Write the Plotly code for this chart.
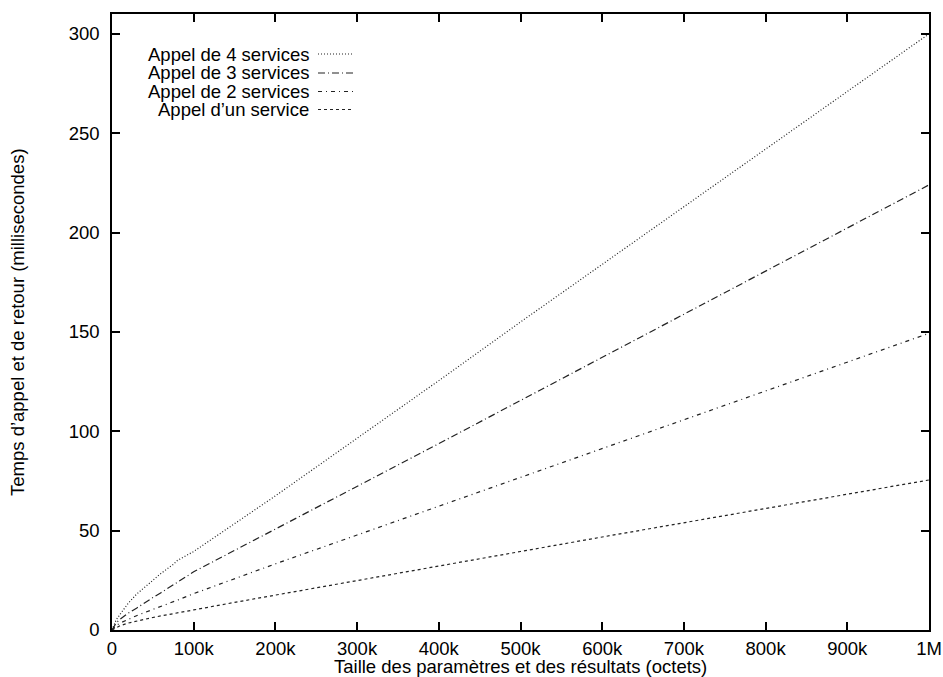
import plotly.graph_objects as go

# Data (x in bytes, y in milliseconds)
sizes = [0, 5e3, 10e3, 20e3, 30e3, 40e3, 50e3, 60e3, 75e3, 80e3, 100e3, 150e3, 200e3,
         300e3, 400e3, 500e3, 600e3, 700e3, 800e3, 900e3, 1e6]
svc4 = [0, 5, 8, 13.5, 18, 21.5, 25, 28.5, 33, 35, 39.5, 53.5, 67.5,
        96.5, 125.5, 155, 184, 213, 242, 271, 300]
svc3 = [0, 3.5, 5.5, 8.5, 11, 13.8, 16.3, 18.8, 22.5, 24, 29.3, 40, 50.6,
        72.2, 93.8, 115.5, 137.2, 159, 180.8, 202.5, 224]
svc2 = [0, 2.2, 3.5, 5.5, 7.2, 8.8, 10.3, 11.7, 14.2, 15, 18.3, 26, 33.3,
        47.8, 62.3, 76.8, 91.3, 105.8, 120.3, 134.8, 149.3]
svc1 = [0, 1.3, 2.2, 3.5, 4.5, 5.4, 6.3, 7.1, 8.3, 8.7, 10.1, 13.9, 17.6,
        25, 32.3, 39.5, 46.8, 54, 61, 68.3, 75.5]

series_names = ["Appel de 4 services", "Appel de 3 services", "Appel de 2 services", "Appel d\u2019un service"]
series_vals = [svc4, svc3, svc2, svc1]
dashes = ["1px,2px", "7px,3px,1px,3px", "4px,4px,1px,4px", "3px,3px"]

x_tickvals = [0, 1e5, 2e5, 3e5, 4e5, 5e5, 6e5, 7e5, 8e5, 9e5, 1e6]
x_ticktext = ["0", "100k", "200k", "300k", "400k", "500k", "600k", "700k", "800k", "900k", "1M"]
y_tickvals = [0, 50, 100, 150, 200, 250, 300]

FONT = "Liberation Sans, Arial, Helvetica, sans-serif"
FS = 18.5
LINE = "#222222"

fig = go.Figure()
for name, vals, d in zip(series_names, series_vals, dashes):
    fig.add_trace(go.Scatter(x=sizes, y=vals, mode="lines", name=name,
                             line=dict(color=LINE, width=1.2, dash=d),
                             showlegend=False))

W, H = 943, 677
L, R, T, B = 112, 14, 14, 47
pw, ph = W - L - R, H - T - B

def px_x(p):
    return (p - L) / pw

def px_y(p):
    return (H - B - p) / ph

annotations = []
shapes = []
legend_rows = [54, 73, 91.5, 109.5]
for name, d, yy in zip(series_names, dashes, legend_rows):
    annotations.append(dict(xref="paper", yref="paper", x=px_x(311), y=px_y(yy),
                            text=name, showarrow=False, xanchor="right", yanchor="middle",
                            font=dict(family=FONT, size=FS, color="black")))
    shapes.append(dict(type="line", xref="paper", yref="paper",
                       x0=px_x(318), x1=px_x(354), y0=px_y(yy), y1=px_y(yy),
                       line=dict(color=LINE, width=1.2, dash=d)))

annotations.append(dict(xref="paper", yref="paper", x=px_x(520), y=px_y(666),
                        text="Taille des param\u00e8tres et des r\u00e9sultats (octets)",
                        showarrow=False, xanchor="center", yanchor="middle",
                        font=dict(family=FONT, size=FS, color="black")))
annotations.append(dict(xref="paper", yref="paper", x=px_x(17), y=px_y(322),
                        text="Temps d\u2019appel et de retour (millisecondes)",
                        showarrow=False, xanchor="center", yanchor="middle", textangle=-90,
                        font=dict(family=FONT, size=FS, color="black")))

axis_common = dict(showgrid=False, zeroline=False, showline=True, linecolor="black",
                   linewidth=1.5, mirror="allticks", ticks="inside", ticklen=8,
                   tickwidth=1.5, tickcolor="black", automargin=False,
                   tickfont=dict(family=FONT, size=FS, color="black"))

fig.update_layout(
    width=W, height=H,
    margin=dict(l=L, r=R, t=T, b=B, autoexpand=False),
    paper_bgcolor="white", plot_bgcolor="white",
    xaxis=dict(range=[0, 1e6], tickmode="array", tickvals=x_tickvals, ticktext=x_ticktext,
               ticklabelstandoff=1, **axis_common),
    yaxis=dict(range=[0, 310], tickmode="array", tickvals=y_tickvals,
               ticklabelstandoff=7, **axis_common),
    annotations=annotations,
    shapes=shapes,
    showlegend=False,
)

fig.write_html("out.html", config={"displayModeBar": False},
               post_script="document.body.style.margin='0';document.body.style.padding='0';")
